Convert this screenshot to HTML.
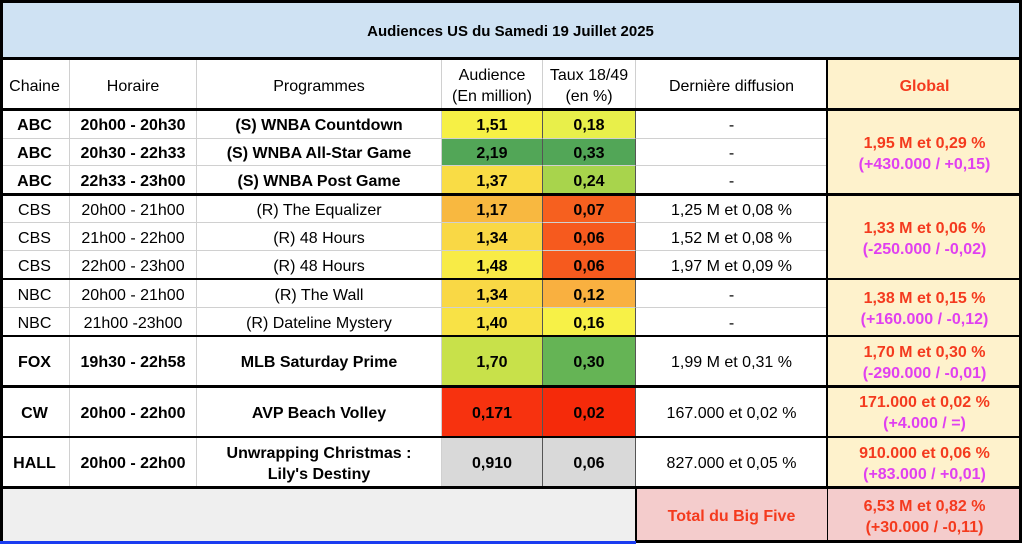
<!DOCTYPE html><html><head><meta charset="utf-8"><style>
body{margin:0;width:1022px;height:546px;background:#fff;font-family:"Liberation Sans",Arial,sans-serif;position:relative;overflow:hidden}
.c{position:absolute;box-sizing:border-box;display:flex;align-items:center;justify-content:center;text-align:center;font-size:16px;color:#000;border-right:1px solid #d0d0d0;border-bottom:1px solid #d0d0d0;line-height:1.3;padding-top:5px}
.c>div{width:100%}
.b{font-weight:bold}
.g{background:#fef2cc;color:#f43a1e;font-weight:bold}
.m{color:#e040f0}
.k{position:absolute;background:#000}
</style></head><body>
<div class="c b" style="left:0;top:0;width:1022px;height:60px;background:#cfe2f3;font-size:15px"><div>Audiences US du Samedi 19 Juillet 2025</div></div>
<div class="c" style="left:0;top:60px;width:70px;height:50px"><div>Chaine</div></div>
<div class="c" style="left:70px;top:60px;width:127px;height:50px"><div>Horaire</div></div>
<div class="c" style="left:197px;top:60px;width:245px;height:50px"><div>Programmes</div></div>
<div class="c" style="left:442px;top:60px;width:101px;height:50px"><div>Audience<br>(En million)</div></div>
<div class="c" style="left:543px;top:60px;width:93px;height:50px"><div>Taux 18/49<br>(en %)</div></div>
<div class="c" style="left:636px;top:60px;width:192px;height:50px"><div>Dernière diffusion</div></div>
<div class="c g" style="left:828px;top:60px;width:194px;height:50px"><div>Global</div></div>
<div id="r"></div>
<script>
var rows=[
[110,29,'ABC','20h00 - 20h30','(S) WNBA Countdown','1,51','#f6f045','0,18','#e8ef4a','-',1],
[139,27,'ABC','20h30 - 22h33','(S) WNBA All-Star Game','2,19','#52a657','0,33','#52a657','-',1],
[166,29,'ABC','22h33 - 23h00','(S) WNBA Post Game','1,37','#f9dc45','0,24','#a8d44c','-',1],
[195,28,'CBS','20h00 - 21h00','(R) The Equalizer','1,17','#f8b840','0,07','#f6601f','1,25 M et 0,08 %',0],
[223,28,'CBS','21h00 - 22h00','(R) 48 Hours','1,34','#f9d845','0,06','#f65a1e','1,52 M et 0,08 %',0],
[251,29,'CBS','22h00 - 23h00','(R) 48 Hours','1,48','#f8eb46','0,06','#f65a1e','1,97 M et 0,09 %',0],
[280,28,'NBC','20h00 - 21h00','(R) The Wall','1,34','#f9d845','0,12','#f9b040','-',0],
[308,28,'NBC','21h00 -23h00','(R) Dateline Mystery','1,40','#f8e246','0,16','#f7f147','-',0],
[336,51,'FOX','19h30 - 22h58','MLB Saturday Prime','1,70','#c8e14a','0,30','#65b455','1,99 M et 0,31 %',1],
[387,50,'CW','20h00 - 22h00','AVP Beach Volley','0,171','#f7320f','0,02','#f52a0a','167.000 et 0,02 %',1],
[437,51,'HALL','20h00 - 22h00','Unwrapping Christmas :<br>Lily\'s Destiny','0,910','#d9d9d9','0,06','#d9d9d9','827.000 et 0,05 %',1]];
var h='';
function cell(cls,st,txt){return '<div class="c'+cls+'" style="'+st+'"><div>'+txt+'</div></div>';}
rows.forEach(function(r){
var t='top:'+r[0]+'px;height:'+r[1]+'px;',b=r[10]?' b':'';
h+=cell(b,'left:0;width:70px;'+t,r[2]);
h+=cell(b,'left:70px;width:127px;'+t,r[3]);
h+=cell(b,'left:197px;width:245px;'+t,r[4]);
h+=cell(' b','left:442px;width:101px;'+t+'background:'+r[6]+';border-right:1px solid #555',r[5]);
h+=cell(' b','left:543px;width:93px;'+t+'background:'+r[8]+';border-right:1px solid #555',r[7]);
h+=cell('','left:636px;width:192px;'+t,r[9]);
});
var gl=[[110,85,'1,95 M et 0,29 %','(+430.000 / +0,15)'],[195,85,'1,33 M et 0,06 %','(-250.000 / -0,02)'],[280,56,'1,38 M et 0,15 %','(+160.000 / -0,12)'],[336,51,'1,70 M et 0,30 %','(-290.000 / -0,01)'],[387,50,'171.000 et 0,02 %','(+4.000 / =)'],[437,51,'910.000 et 0,06 %','(+83.000 / +0,01)']];
gl.forEach(function(g){h+=cell(' g','left:828px;width:194px;top:'+g[0]+'px;height:'+g[1]+'px',g[2]+'<br><span class="m">'+g[3]+'</span>');});
h+=cell('','left:0;top:488px;width:636px;height:55px;background:#efefef','');
h+=cell(' g','left:636px;top:488px;width:192px;height:55px;background:#f4cccc','Total du Big Five');
h+=cell(' g','left:828px;top:488px;width:194px;height:55px;background:#f4cccc','6,53 M et 0,82 %<br>(+30.000 / -0,11)');
[[0,0,1022,3],[0,57,1022,3],[0,108,1022,3],[0,193,1022,3],[0,278,1022,2],[0,335,1022,2],[0,385,1022,3],[0,436,1022,2],[0,486,1022,3],[636,540,386,3],[0,0,3,543],[1019,0,3,543],[826,60,2,428],[635,488,2,55],[827,488,1,55]].forEach(function(k){h+='<div class="k" style="left:'+k[0]+'px;top:'+k[1]+'px;width:'+k[2]+'px;height:'+k[3]+'px"></div>';});
h+='<div class="k" style="left:0;top:541px;width:636px;height:3px;background:#1a3cf0"></div>';
document.getElementById('r').innerHTML=h;
</script>
</body></html>
